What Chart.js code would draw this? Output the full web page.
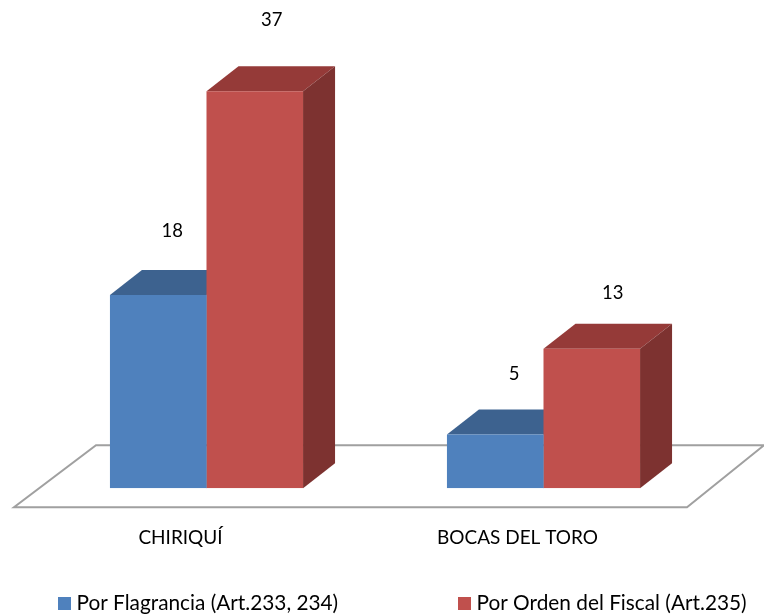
<!DOCTYPE html>
<html>
<head>
<meta charset="utf-8">
<style>
  html, body { margin: 0; padding: 0; background: #fff; }
  #wrap { width: 764px; height: 616px; }
</style>
<script src="https://cdn.jsdelivr.net/npm/chart.js@4"></script>
</head>
<body>
<div id="wrap"><canvas id="myChart"></canvas></div>
<script>
const labels = ["CHIRIQUÍ", "BOCAS DEL TORO"];
const flagrancia = [18, 5];
const ordenFiscal = [37, 13];
const seriesNames = ["Por Flagrancia (Art.233, 234)", "Por Orden del Fiscal (Art.235)"];

const fontName = "Lato, 'Open Sans', sans-serif";
const depthX = 32;
const depthY = 25;
const faces = [
  { top: "#3d628f", side: "#345578" },
  { top: "#953a38", side: "#7d3230" },
];
// value labels float at slightly different spots over each bar
const labelNudge = [
  [[14, -64], [19, -61]],
  [[17, -71], [21, -56]],
];
const legendX = [58, 458];

function poly(ctx, pts, fill, stroke) {
  ctx.beginPath();
  pts.forEach((p, i) => (i ? ctx.lineTo(p[0], p[1]) : ctx.moveTo(p[0], p[1])));
  ctx.closePath();
  if (fill) {
    ctx.fillStyle = fill;
    ctx.fill();
  }
  if (stroke) {
    ctx.strokeStyle = stroke;
    ctx.lineWidth = 2;
    ctx.stroke();
  }
}

// floor plane and the top/side faces go under the bars
const bar3d = {
  id: "bar3d",
  beforeDatasetsDraw(chart) {
    const { ctx, chartArea } = chart;
    const b = chartArea.bottom;
    const l = chartArea.left;
    const r = chartArea.right;
    ctx.save();
    poly(ctx, [[l - 24, b + 19], [r - 25, b + 19], [r + 52, b - 43], [l + 58, b - 43]], "#fff", "#a0a0a0");
    chart.data.datasets.forEach((ds, i) => {
      chart.getDatasetMeta(i).data.forEach((bar) => {
        const x0 = bar.x - bar.width / 2;
        const x1 = bar.x + bar.width / 2;
        poly(ctx, [[x0, bar.y], [x1, bar.y], [x1 + depthX, bar.y - depthY], [x0 + depthX, bar.y - depthY]], faces[i].top);
        poly(ctx, [[x1, bar.y], [x1 + depthX, bar.y - depthY], [x1 + depthX, bar.base - depthY], [x1, bar.base]], faces[i].side);
      });
    });
    ctx.restore();
  },
  afterDatasetsDraw(chart) {
    const { ctx } = chart;
    ctx.save();
    ctx.fillStyle = "#000";
    ctx.font = "18.5px " + fontName;
    ctx.textAlign = "center";
    ctx.textBaseline = "middle";
    chart.data.datasets.forEach((ds, i) => {
      chart.getDatasetMeta(i).data.forEach((bar, j) => {
        ctx.fillText(ds.data[j], bar.x + labelNudge[i][j][0], bar.y + labelNudge[i][j][1]);
      });
    });
    // legend spread wider than the built-in one can manage
    ctx.font = "20.8px " + fontName;
    ctx.textAlign = "left";
    chart.data.datasets.forEach((ds, i) => {
      ctx.fillStyle = ds.backgroundColor;
      ctx.fillRect(legendX[i], 597, 13, 13);
      ctx.fillStyle = "#000";
      ctx.fillText(ds.label, legendX[i] + 18.5, 603);
    });
    ctx.restore();
  },
};

const data = {
  labels: labels,
  datasets: [
    { label: seriesNames[0], data: flagrancia, backgroundColor: "#4f81bd", barPercentage: 1, categoryPercentage: 0.573 },
    { label: seriesNames[1], data: ordenFiscal, backgroundColor: "#c0504d", barPercentage: 1, categoryPercentage: 0.573 },
  ],
};

const config = {
  type: "bar",
  data: data,
  options: {
    responsive: true,
    maintainAspectRatio: false,
    animation: false,
    layout: { padding: { left: 38, right: 52, top: 59, bottom: 37 } },
    scales: {
      x: {
        grid: { display: false },
        border: { display: false },
        ticks: { color: "#000", font: { family: fontName, size: 19 }, padding: 30, maxRotation: 0, labelOffset: -26 },
      },
      y: { display: false, min: 0, max: 40 },
    },
    plugins: {
      tooltip: { enabled: false },
      legend: { display: false },
    },
  },
  plugins: [bar3d],
};

const myChart = new Chart(document.getElementById("myChart"), config);
</script>
</body>
</html>
